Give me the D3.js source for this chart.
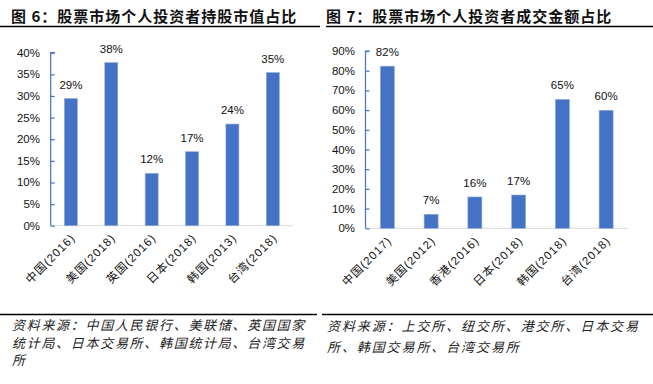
<!DOCTYPE html>
<html><head><meta charset="utf-8">
<script src="https://cdn.jsdelivr.net/npm/d3@7"></script>
<style>
body{margin:0;background:#fff;}
svg{display:block;}
</style></head>
<body>
<svg id="c" width="653" height="384"></svg>
<script>
const titles = ["图 6：股票市场个人投资者持股市值占比", "图 7：股票市场个人投资者成交金额占比"];
const cats1 = ["中国(2016)", "美国(2018)", "英国(2016)", "日本(2018)", "韩国(2013)", "台湾(2018)"];
const vals1 = [29.4, 37.7, 12.1, 17.1, 23.5, 35.4];
const ticks1 = [0, 5, 10, 15, 20, 25, 30, 35, 40];
const cats2 = ["中国(2017)", "美国(2012)", "香港(2016)", "日本(2018)", "韩国(2018)", "台湾(2018)"];
const vals2 = [82.3, 7.1, 15.9, 16.9, 65.4, 59.9];
const ticks2 = [0, 10, 20, 30, 40, 50, 60, 70, 80, 90];
const source1 = ["资料来源：中国人民银行、美联储、英国国家", "统计局、日本交易所、韩国统计局、台湾交易", "所"];
const source2 = ["资料来源：上交所、纽交所、港交所、日本交易", "所、韩国交易所、台湾交易所"];

const svg = d3.select("#c");
const blue = "#4472C4";
const numFont = "'Liberation Sans', Arial, 'Noto Sans CJK SC', sans-serif";
const cjkFont = "'Noto Sans CJK SC', sans-serif";

function panel(cfg) {
  const {x0, x1, yTop, yBot, cats, vals, ticks, max, labelEnd, bw} = cfg;
  const x = d3.scaleBand().domain(cats).range([x0, x1]).padding(0);
  const y = d3.scaleLinear().domain([0, max]).range([yBot, yTop]);
  const g = svg.append("g");
  g.append("line").attr("x1", x0).attr("x2", x1).attr("y1", yBot).attr("y2", yBot)
    .attr("stroke", "#d9d9d9").attr("stroke-width", 1);
  const ya = d3.axisRight(y).tickValues(ticks).tickSize(4).tickFormat("");
  const yg = g.append("g").attr("transform", `translate(${x0},0)`).call(ya);
  yg.selectAll("path, line").attr("stroke", blue).attr("stroke-width", 1.2);
  yg.select(".domain").attr("d", `M4,${yTop}H0V${yBot}`);
  g.selectAll("text.yt").data(ticks).join("text").attr("class", "yt")
    .attr("x", labelEnd).attr("y", d => y(d) + 4)
    .attr("text-anchor", "end").attr("font-family", numFont).attr("font-size", 11.5)
    .attr("fill", "#111").text(d => d + "%");
  g.selectAll("rect.bar").data(vals).join("rect").attr("class", "bar")
    .attr("x", (d, i) => x(cats[i]) + x.bandwidth() / 2 - bw / 2)
    .attr("width", bw)
    .attr("y", d => y(d)).attr("height", d => yBot - y(d))
    .attr("fill", blue).attr("stroke", "#8faadc").attr("stroke-width", 0.6);
  g.selectAll("text.vl").data(vals).join("text").attr("class", "vl")
    .attr("x", (d, i) => x(cats[i]) + x.bandwidth() / 2)
    .attr("y", d => y(d) - 10)
    .attr("text-anchor", "middle").attr("font-family", numFont).attr("font-size", 11.5)
    .attr("fill", "#111").text(d => Math.round(d) + "%");
  g.selectAll("text.cl").data(cats).join("text").attr("class", "cl")
    .attr("transform", d => `translate(${x(d) + x.bandwidth() / 2 + 5},${yBot + 13}) rotate(-45)`)
    .attr("text-anchor", "end").attr("font-family", numFont).attr("font-size", 11.5)
    .attr("letter-spacing", 1)
    .attr("fill", "#111").text(d => d);
}

panel({x0: 50.7, x1: 293, yTop: 52.7, yBot: 225.7, cats: cats1, vals: vals1, ticks: ticks1, max: 40, labelEnd: 40, bw: 13});
panel({x0: 365.5, x1: 628, yTop: 51, yBot: 228.3, cats: cats2, vals: vals2, ticks: ticks2, max: 90, labelEnd: 355, bw: 14});

[[11, titles[0]], [326, titles[1]]].forEach(([tx, t]) => {
  svg.append("text").attr("x", tx).attr("y", 22).attr("font-family", cjkFont)
    .attr("font-weight", "bold").attr("font-size", 15).attr("letter-spacing", 1)
    .attr("fill", "#111").text(t);
});
[[0, 320, 26.5], [326, 653, 26.5], [0, 317, 314.5], [322, 653, 314.5]].forEach(([a, b, yy]) => {
  svg.append("line").attr("x1", a).attr("x2", b).attr("y1", yy).attr("y2", yy)
    .attr("stroke", "#000").attr("stroke-width", 1.5);
});
source1.forEach((t, i) => {
  svg.append("text").attr("x", 12).attr("y", 330 + i * 17.5).attr("font-family", cjkFont)
    .attr("font-style", "italic").attr("font-size", 13).attr("letter-spacing", 1.7)
    .attr("fill", "#222").text(t);
});
source2.forEach((t, i) => {
  svg.append("text").attr("x", 327).attr("y", 331 + i * 21).attr("font-family", cjkFont)
    .attr("font-style", "italic").attr("font-size", 13).attr("letter-spacing", 1.9)
    .attr("fill", "#222").text(t);
});
</script>
</body></html>
